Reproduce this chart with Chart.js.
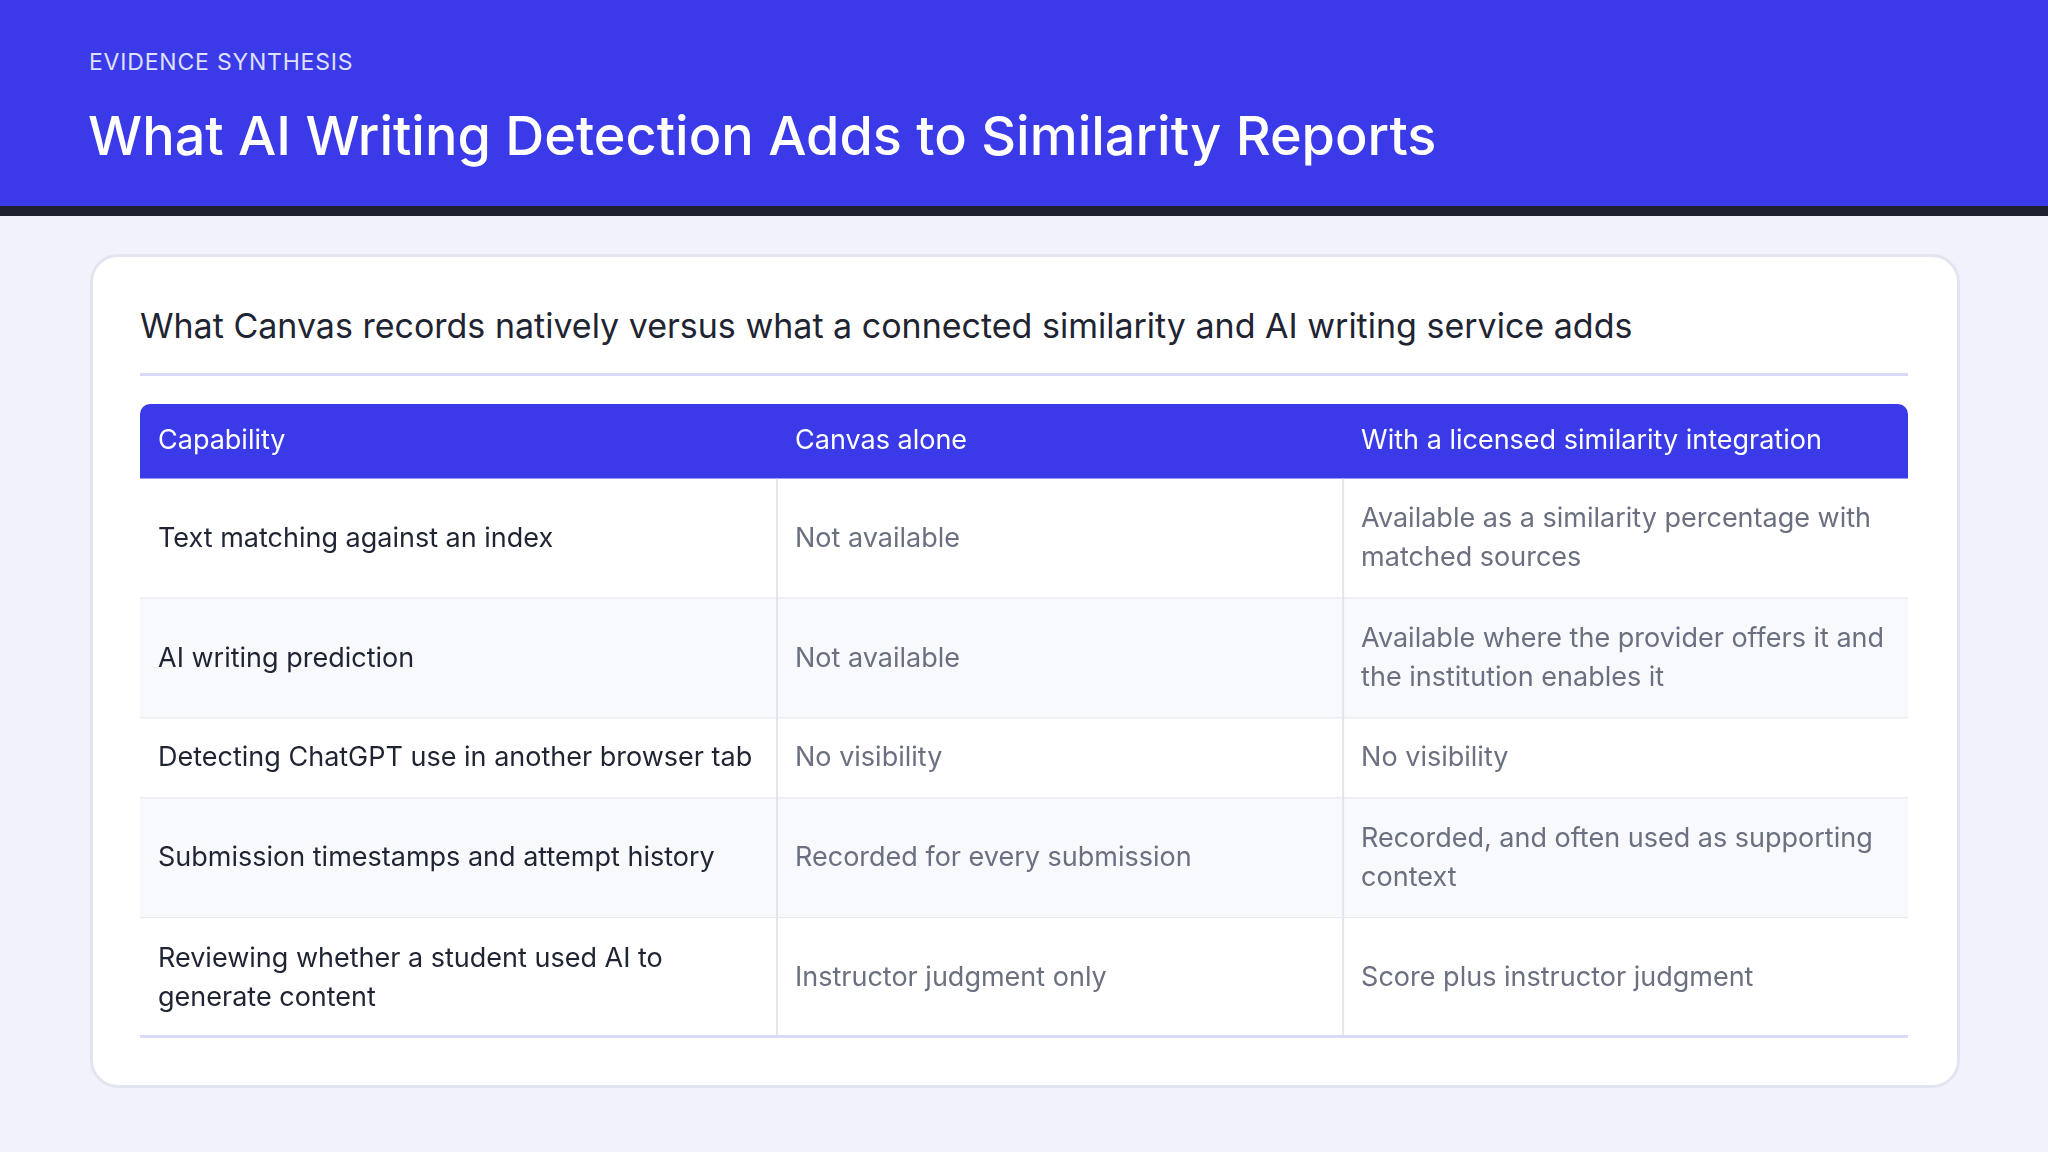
<!DOCTYPE html>
<html><head><meta charset="utf-8">
<script src="https://cdn.jsdelivr.net/npm/chart.js@4"></script>
<style>
body{margin:0;width:2048px;height:1152px;background:#f1f2fc;font-family:Inter,"Noto Sans",sans-serif;position:relative;overflow:hidden}
#band{position:absolute;left:0;top:0;width:2048px;height:206px;background:#3a3ae8;border-bottom:10px solid #1e2230}
#kicker{position:absolute;left:89px;top:48px;color:#dfe0ff;font-size:23px;letter-spacing:0.8px}
#title{position:absolute;left:88px;top:103px;color:#fff;font-size:54px;font-weight:500}
#card{position:absolute;left:90px;top:254px;width:1864px;height:828px;background:#fff;border:3px solid #e2e4ee;border-radius:28px}
#sub{position:absolute;left:140px;top:305px;color:#1f2433;font-size:34px}
#rule{position:absolute;left:140px;top:373px;width:1768px;height:3px;background:#d9dbf6}
#table{position:absolute;left:140px;top:404px}
</style></head>
<body>
<div id="band"><div id="kicker">EVIDENCE SYNTHESIS</div><div id="title">What AI Writing Detection Adds to Similarity Reports</div></div>
<div id="card"></div>
<div id="sub">What Canvas records natively versus what a connected similarity and AI writing service adds</div>
<div id="rule"></div>
<canvas id="table" width="1768" height="634"></canvas>
<script>
'use strict';
let headers=['Capability','Canvas alone','With a licensed similarity integration'];
let capabilities=['Text matching against an index','AI writing prediction','Detecting ChatGPT use in another browser tab','Submission timestamps and attempt history','Reviewing whether a student used AI to generate content'];
let canvasAlone=['Not available','Not available','No visibility','Recorded for every submission','Instructor judgment only'];
let withIntegration=['Available as a similarity percentage with matched sources','Available where the provider offers it and the institution enables it','No visibility','Recorded, and often used as supporting context','Score plus instructor judgment'];

let colEdges=[0,0.3603,0.6805,1];
let font='400 27px Inter, "Noto Sans", sans-serif';
let W=1768;
let pad=18;

let measure=document.createElement('canvas').getContext('2d');
measure.font=font;
function wrap(text,maxW){
  let words=text.split(' ');let lines=[];let cur='';
  for(let w of words){
    let t=cur?cur+' '+w:w;
    if(measure.measureText(t).width>maxW&&cur){lines.push(cur);cur=w;}else{cur=t;}
  }
  lines.push(cur);return lines;
}
let columns=[capabilities,canvasAlone,withIntegration];
let rows=[];
for(let i=0;i<capabilities.length;i++){
  let cells=columns.map((col,c)=>wrap(col[i],(colEdges[c+1]-colEdges[c])*W-pad*2-4));
  rows.push({cells:cells,units:Math.max(...cells.map(l=>l.length))+1});
}
let headerUnits=1.87;
let total=headerUnits+rows.reduce((s,r)=>s+r.units,0);

let tablePlugin={
  id:'table',
  afterDraw(chart){
    let ctx=chart.ctx;let x=chart.scales.x;let y=chart.scales.y;
    let px=v=>x.getPixelForValue(v);let py=v=>y.getPixelForValue(v);
    ctx.save();
    let l=px(0),r=px(1),t=py(0),b=py(headerUnits);
    ctx.fillStyle='#3a3ae8';
    ctx.beginPath();ctx.roundRect(l,t,r-l,b-t,[10,10,0,0]);ctx.fill();
    ctx.font='400 27px Inter, "Noto Sans", sans-serif';ctx.fillStyle='#fff';ctx.textBaseline='middle';
    headers.forEach((h,c)=>ctx.fillText(h,px(colEdges[c])+pad,(t+b)/2));
    let u=headerUnits;
    rows.forEach((row,i)=>{
      let top=py(u),bot=py(u+row.units);
      ctx.fillStyle=i%2?'#f8f9fc':'#fff';
      ctx.fillRect(l,top,r-l,bot-top);
      ctx.font=font;
      row.cells.forEach((lines,c)=>{
        ctx.fillStyle=c===0?'#1f2433':'#6b7080';
        let lh=39;let start=(top+bot)/2-(lines.length-1)*lh/2;
        lines.forEach((ln,k)=>ctx.fillText(ln,px(colEdges[c])+pad,start+k*lh));
      });
      if(i<rows.length-1){ctx.fillStyle='#e3e5ec';ctx.fillRect(l,bot-1,r-l,2);}
      u+=row.units;
    });
    ctx.fillStyle='#e3e5ec';
    [1,2].forEach(c=>ctx.fillRect(px(colEdges[c])-1,py(headerUnits),2,py(total)-py(headerUnits)));
    ctx.fillStyle='#d9dbf6';ctx.fillRect(l,py(total)-3,r-l,3);
    ctx.restore();
  }
};

new Chart(document.getElementById('table'),{
  type:'scatter',
  data:{datasets:[{data:[]}]},
  options:{
    responsive:false,animation:false,
    layout:{padding:0},
    plugins:{legend:{display:false},tooltip:{enabled:false}},
    scales:{
      x:{type:'linear',min:0,max:1,display:false},
      y:{type:'linear',min:0,max:total,reverse:true,display:false}
    }
  },
  plugins:[tablePlugin]
});
</script>
</body></html>
